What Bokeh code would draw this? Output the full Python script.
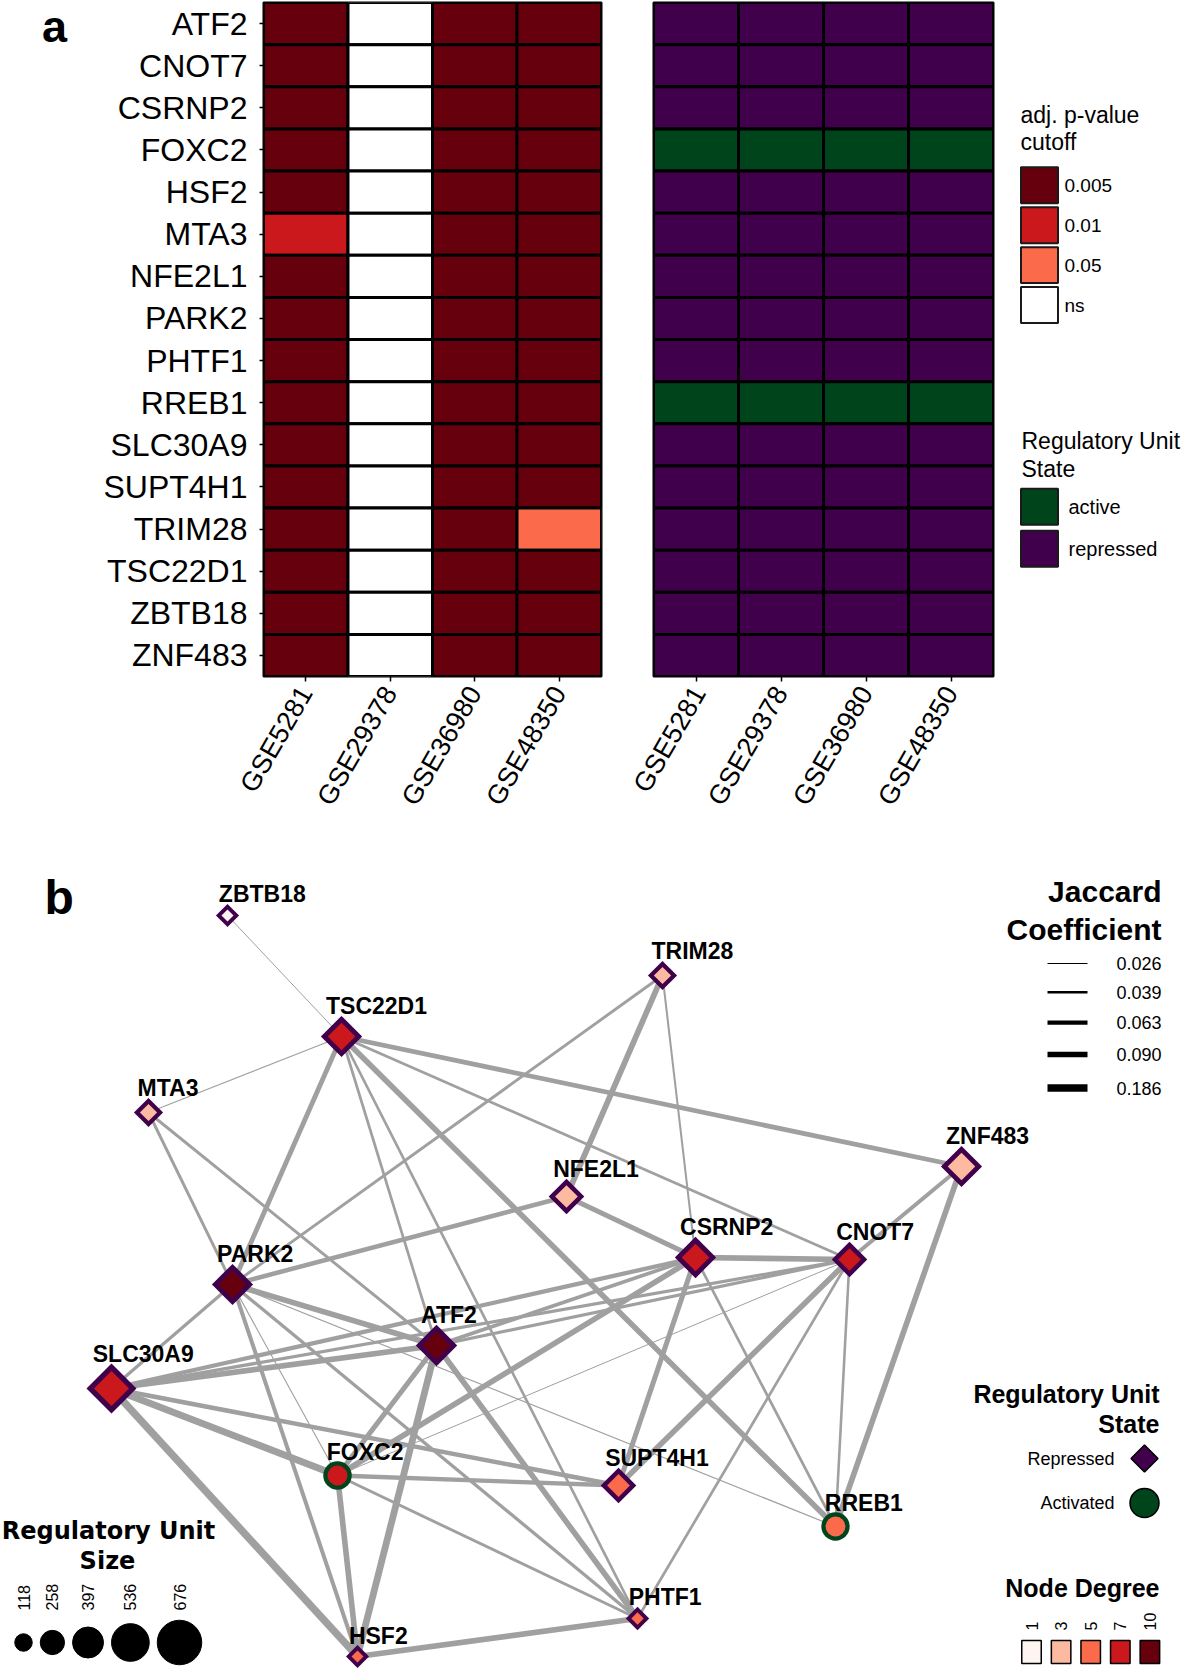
import numpy as np
from math import pi, sqrt
from bokeh.plotting import figure
from bokeh.models import Range1d, FactorRange, ColumnDataSource
from bokeh.layouts import row, column
from bokeh.embed import file_html
from bokeh.resources import INLINE
from bokeh.core.properties import value

SANS = "Liberation Sans"
WIDE = "DejaVu Sans"

# ======================= DATA : panel a =======================
genes = ["ATF2", "CNOT7", "CSRNP2", "FOXC2", "HSF2", "MTA3", "NFE2L1", "PARK2",
         "PHTF1", "RREB1", "SLC30A9", "SUPT4H1", "TRIM28", "TSC22D1", "ZBTB18", "ZNF483"]
datasets = ["GSE5281", "GSE29378", "GSE36980", "GSE48350"]

pval_GSE5281 = ["0.005", "0.005", "0.005", "0.005", "0.005", "0.01", "0.005", "0.005",
                "0.005", "0.005", "0.005", "0.005", "0.005", "0.005", "0.005", "0.005"]
pval_GSE29378 = ["ns", "ns", "ns", "ns", "ns", "ns", "ns", "ns",
                 "ns", "ns", "ns", "ns", "ns", "ns", "ns", "ns"]
pval_GSE36980 = ["0.005", "0.005", "0.005", "0.005", "0.005", "0.005", "0.005", "0.005",
                 "0.005", "0.005", "0.005", "0.005", "0.005", "0.005", "0.005", "0.005"]
pval_GSE48350 = ["0.005", "0.005", "0.005", "0.005", "0.005", "0.005", "0.005", "0.005",
                 "0.005", "0.005", "0.005", "0.005", "0.05", "0.005", "0.005", "0.005"]
state_by_gene = ["repressed", "repressed", "repressed", "active", "repressed", "repressed",
                 "repressed", "repressed", "repressed", "active", "repressed", "repressed",
                 "repressed", "repressed", "repressed", "repressed"]
pval_levels = ["0.005", "0.01", "0.05", "ns"]
state_levels = ["active", "repressed"]

# ======================= DATA : panel b =======================
node_names = ["ZBTB18", "TRIM28", "TSC22D1", "MTA3", "ZNF483", "NFE2L1", "CSRNP2", "CNOT7",
              "PARK2", "ATF2", "SLC30A9", "FOXC2", "SUPT4H1", "RREB1", "PHTF1", "HSF2"]
node_x = [227, 662, 341, 148, 961, 566, 695, 849, 232, 436, 111, 337, 618, 835, 637, 357]
node_y = [915, 975, 1036, 1112, 1166, 1196, 1257, 1259, 1284, 1345, 1388, 1475, 1485, 1526, 1618, 1656]
node_unit_size = [120, 245, 495, 244, 493, 378, 496, 376, 494, 497, 676, 283, 379, 280, 125, 118]
node_degree = [1, 3, 8, 3, 3, 3, 8, 9, 10, 10, 7, 8, 5, 5, 6, 5]
node_state = ["Repressed", "Repressed", "Repressed", "Repressed", "Repressed", "Repressed",
              "Repressed", "Repressed", "Repressed", "Repressed", "Repressed", "Activated",
              "Repressed", "Activated", "Repressed", "Repressed"]

edge_from = ["ZBTB18", "MTA3", "MTA3", "MTA3", "TRIM28", "TRIM28", "TRIM28",
             "TSC22D1", "TSC22D1", "TSC22D1", "TSC22D1", "TSC22D1", "TSC22D1",
             "ZNF483", "ZNF483", "NFE2L1", "NFE2L1",
             "CSRNP2", "CSRNP2", "CSRNP2", "CSRNP2", "CSRNP2", "CSRNP2",
             "CNOT7", "CNOT7", "CNOT7", "CNOT7", "CNOT7", "CNOT7",
             "PARK2", "PARK2", "PARK2", "PARK2", "PARK2", "PARK2",
             "ATF2", "ATF2", "ATF2", "ATF2", "SLC30A9", "SLC30A9", "SLC30A9",
             "FOXC2", "FOXC2", "FOXC2", "HSF2"]
edge_to = ["TSC22D1", "TSC22D1", "PARK2", "ATF2", "PARK2", "NFE2L1", "CSRNP2",
           "PARK2", "ZNF483", "CNOT7", "RREB1", "ATF2", "PHTF1",
           "CNOT7", "RREB1", "PARK2", "CSRNP2",
           "CNOT7", "SLC30A9", "ATF2", "FOXC2", "SUPT4H1", "RREB1",
           "SLC30A9", "ATF2", "FOXC2", "SUPT4H1", "RREB1", "PHTF1",
           "SLC30A9", "ATF2", "HSF2", "PHTF1", "FOXC2", "RREB1",
           "SLC30A9", "FOXC2", "HSF2", "PHTF1", "SUPT4H1", "FOXC2", "HSF2",
           "SUPT4H1", "HSF2", "PHTF1", "PHTF1"]
edge_jaccard = [0.026, 0.027, 0.045, 0.045, 0.045, 0.095, 0.035,
                0.075, 0.075, 0.042, 0.090, 0.042, 0.042,
                0.060, 0.090, 0.070, 0.080,
                0.095, 0.065, 0.055, 0.090, 0.080, 0.042,
                0.050, 0.050, 0.026, 0.090, 0.040, 0.042,
                0.050, 0.090, 0.060, 0.050, 0.027, 0.028,
                0.090, 0.080, 0.150, 0.090, 0.070, 0.160, 0.186,
                0.065, 0.090, 0.045, 0.090]

size_breaks = [118, 258, 397, 536, 676]
degree_breaks = [1, 3, 5, 7, 10]
jaccard_breaks = [0.026, 0.039, 0.063, 0.090, 0.186]
state_legend = ["Repressed", "Activated"]

# ======================= STYLES =======================
PVAL_COLORS = {"0.005": "#67000D", "0.01": "#CB181D", "0.05": "#FB6A4A", "ns": "#FFFFFF"}
STATE_COLORS = {"active": "#00441B", "repressed": "#40004B",
                "Activated": "#00441B", "Repressed": "#40004B"}
DEGREE_COLORS = ["#FFF5F0", "#FCBBA1", "#FB6A4A", "#CB181D", "#67000D"]
EDGE_COLOR = "#A0A0A0"
SIZE_DIAM = [17.5, 44.5]
JAC_WIDTH = [1.0, 2.5, 4.2, 5.6, 7.5]

W_TOT = 1181
H_A = 820          # height of panel a row
H_B = 848          # height of network panel
TOP_A, BOT_A = 2, 143   # borders of panel a frames


def txt(p, xs, ys, texts, size, align="left", baseline="middle", bold=False,
        font=SANS, angle=0.0, color="black"):
    p.text(x=xs, y=ys, text=texts, text_font=value(font), text_font_size=f"{size}px",
           text_font_style="bold" if bold else "normal", text_align=align,
           text_baseline=baseline, angle=angle, text_color=color)


def blank(width, height, x0, y_top, y_bot, bt=0, bb=0):
    p = figure(width=width, height=height, x_range=Range1d(x0, x0 + width),
               y_range=Range1d(y_bot, y_top), output_backend="svg", toolbar_location=None,
               x_axis_location=None, y_axis_location=None, min_border=0,
               min_border_top=bt, min_border_bottom=bb, tools="")
    p.grid.visible = False
    p.outline_line_color = None
    p.background_fill_color = None
    p.border_fill_color = None
    return p


# ======================= PANEL a =======================
fig_lab = blank(98, H_A, 0, TOP_A, H_A - BOT_A, TOP_A, BOT_A)
txt(fig_lab, [41.5], [26], ["a"], 45, bold=True)

hx, hy, hc = [], [], []
for ds, vals in zip(datasets, [pval_GSE5281, pval_GSE29378, pval_GSE36980, pval_GSE48350]):
    for g, v in zip(genes, vals):
        hx.append(ds); hy.append(g); hc.append(PVAL_COLORS[v])
src_p = ColumnDataSource(dict(x=hx, y=hy, c=hc))

sx, sy, sc = [], [], []
for ds in datasets:
    for g, st in zip(genes, state_by_gene):
        sx.append(ds); sy.append(g); sc.append(STATE_COLORS[st])
src_s = ColumnDataSource(dict(x=sx, y=sy, c=sc))


def style_heat(p):
    p.xgrid.visible = False
    p.ygrid.visible = False
    p.outline_line_color = "black"
    p.outline_line_width = 2
    for ax in p.xaxis:
        ax.major_label_orientation = pi / 3
        ax.major_label_text_font = SANS
        ax.major_label_text_font_size = "27px"
        ax.major_label_text_color = "black"
        ax.axis_line_color = None
        ax.major_tick_line_color = "black"
        ax.major_tick_line_width = 1.5
        ax.major_tick_out = 5
        ax.major_tick_in = 0
        ax.major_label_standoff = 7
    for ax in p.yaxis:
        ax.major_label_text_font = SANS
        ax.major_label_text_font_size = "32px"
        ax.major_label_text_color = "black"
        ax.axis_line_color = None
        ax.major_tick_line_color = "black"
        ax.major_tick_line_width = 1.5
        ax.major_tick_out = 4
        ax.major_tick_in = 0
        ax.major_label_standoff = 12


heat_l = figure(width=529, height=H_A, x_range=FactorRange(factors=datasets),
                y_range=FactorRange(factors=genes[::-1]), output_backend="svg",
                toolbar_location=None, tools="", min_border_left=165, min_border_right=26,
                min_border_top=TOP_A, min_border_bottom=BOT_A)
heat_l.rect(x="x", y="y", width=1, height=1, source=src_p, fill_color="c",
            line_color="black", line_width=3)
style_heat(heat_l)

heat_r = figure(width=373, height=H_A, x_range=FactorRange(factors=datasets),
                y_range=FactorRange(factors=genes[::-1]), output_backend="svg",
                toolbar_location=None, tools="", y_axis_location=None,
                min_border_left=26, min_border_right=7, min_border_top=TOP_A,
                min_border_bottom=BOT_A)
heat_r.rect(x="x", y="y", width=1, height=1, source=src_s, fill_color="c",
            line_color="black", line_width=3)
style_heat(heat_r)

leg_a = blank(W_TOT - 98 - 529 - 373, H_A, 1000, TOP_A, H_A - BOT_A, TOP_A, BOT_A)
txt(leg_a, [1020, 1020], [115, 142], ["adj. p-value", "cutoff"], 23)
ky = [185 + 40 * i for i in range(len(pval_levels))]
leg_a.rect(x=[1039] * len(pval_levels), y=ky, width=37, height=36,
           fill_color=[PVAL_COLORS[v] for v in pval_levels], line_color="#1a1a1a", line_width=2)
txt(leg_a, [1064] * len(pval_levels), ky, pval_levels, 19)
txt(leg_a, [1021, 1021], [441, 469], ["Regulatory Unit", "State"], 23)
ky2 = [507 + 42 * i for i in range(len(state_levels))]
leg_a.rect(x=[1039] * len(state_levels), y=ky2, width=37, height=36,
           fill_color=[STATE_COLORS[v] for v in state_levels], line_color="#1a1a1a", line_width=2)
txt(leg_a, [1068] * len(state_levels), ky2, state_levels, 20)

# ======================= PANEL b =======================
net = blank(W_TOT, H_B, 0, H_A, H_A + H_B)
txt(net, [44], [897], ["b"], 48, bold=True)

idx = {n: i for i, n in enumerate(node_names)}
nx = np.array(node_x, float)
ny = np.array(node_y, float)
ei = [idx[a] for a in edge_from]
ej = [idx[b] for b in edge_to]
ew = np.interp(edge_jaccard, jaccard_breaks, JAC_WIDTH)
net.segment(x0=nx[ei], y0=ny[ei], x1=nx[ej], y1=ny[ej], line_width=ew,
            line_color=EDGE_COLOR, line_cap="butt")

s = np.array(node_unit_size, float)
d = np.interp(s, [size_breaks[0], size_breaks[-1]], SIZE_DIAM)
is_rep = np.array([st == "Repressed" for st in node_state])
outer = np.where(is_rep, d + 5.5, d + 3.0)
ring = np.where(is_rep, np.interp(s, [size_breaks[0], size_breaks[-1]], [11.0, 15.0]), 8.5)
inner = outer - ring
fill = [DEGREE_COLORS[int(np.searchsorted(degree_breaks, g, side="right")) - 1] for g in node_degree]
lcol = [STATE_COLORS[st] for st in node_state]
node_src = ColumnDataSource(dict(
    x=nx, y=ny,
    marker=["square" if r else "circle" for r in is_rep],
    so=np.where(is_rep, outer / sqrt(2), outer),
    si=np.where(is_rep, inner / sqrt(2), inner),
    ang=np.where(is_rep, pi / 4, 0.0),
    fill=fill, lc=lcol))
net.scatter(x="x", y="y", marker="marker", size="so", angle="ang", fill_color="lc",
            line_color=None, source=node_src)
net.scatter(x="x", y="y", marker="marker", size="si", angle="ang", fill_color="fill",
            line_color=None, source=node_src)

r_out = outer / 2
txt(net, nx - 0.75 * r_out, ny - r_out - 9.5, node_names, 23, bold=True)

# --- Jaccard legend
txt(net, [1161, 1161], [890.5, 929], ["Jaccard", "Coefficient"], 30, align="right", bold=True)
jw = np.interp(jaccard_breaks, jaccard_breaks, JAC_WIDTH)
jy = [963.0]
for i in range(1, len(jaccard_breaks)):
    jy.append(jy[-1] + 27 + (jw[i - 1] + jw[i]) / 2)
net.segment(x0=[1047] * len(jy), y0=jy, x1=[1087] * len(jy), y1=jy, line_width=jw,
            line_color="black", line_cap="butt")
txt(net, [1161] * len(jy), jy, [f"{b:.3f}" for b in jaccard_breaks], 18, align="right")

# --- state legend
txt(net, [1159, 1159], [1393, 1423.5], ["Regulatory Unit", "State"], 25, align="right", bold=True)
sty = [1458 + 44.5 * i for i in range(len(state_legend))]
txt(net, [1114] * len(sty), sty, state_legend, 18, align="right")
net.scatter(x=[1144] * len(sty), y=sty,
            marker=["square" if st == "Repressed" else "circle" for st in state_legend],
            size=[27 / sqrt(2) if st == "Repressed" else 29 for st in state_legend],
            angle=[pi / 4 if st == "Repressed" else 0 for st in state_legend],
            fill_color=[STATE_COLORS[st] for st in state_legend],
            line_color="black", line_width=1.5)

# --- node degree legend
txt(net, [1159], [1587.5], ["Node Degree"], 25, align="right", bold=True)
dx = [1031 + 29.6 * i for i in range(len(degree_breaks))]
txt(net, dx, [1630] * len(dx), [str(b) for b in degree_breaks], 16, angle=pi / 2)
net.rect(x=dx, y=[1651.5] * len(dx), width=19.5, height=23, fill_color=DEGREE_COLORS,
         line_color="black", line_width=1.5)

# --- size legend
txt(net, [108, 107], [1530, 1560.5], ["Regulatory Unit", "Size"], 24, align="center",
    bold=True, font=WIDE)
sd = np.interp(size_breaks, [size_breaks[0], size_breaks[-1]], SIZE_DIAM)
scx = []
edge = 14.25
for dd in sd:
    scx.append(edge + dd / 2)
    edge += dd + 8
net.scatter(x=scx, y=[1642] * len(scx), marker="circle", size=sd, fill_color="black",
            line_color="black")
txt(net, scx, [1610] * len(scx), [str(b) for b in size_breaks], 16, angle=pi / 2)

layout = column(row(fig_lab, heat_l, heat_r, leg_a, spacing=0), net, spacing=0)
open("out.html", "w").write(file_html(layout, INLINE))
